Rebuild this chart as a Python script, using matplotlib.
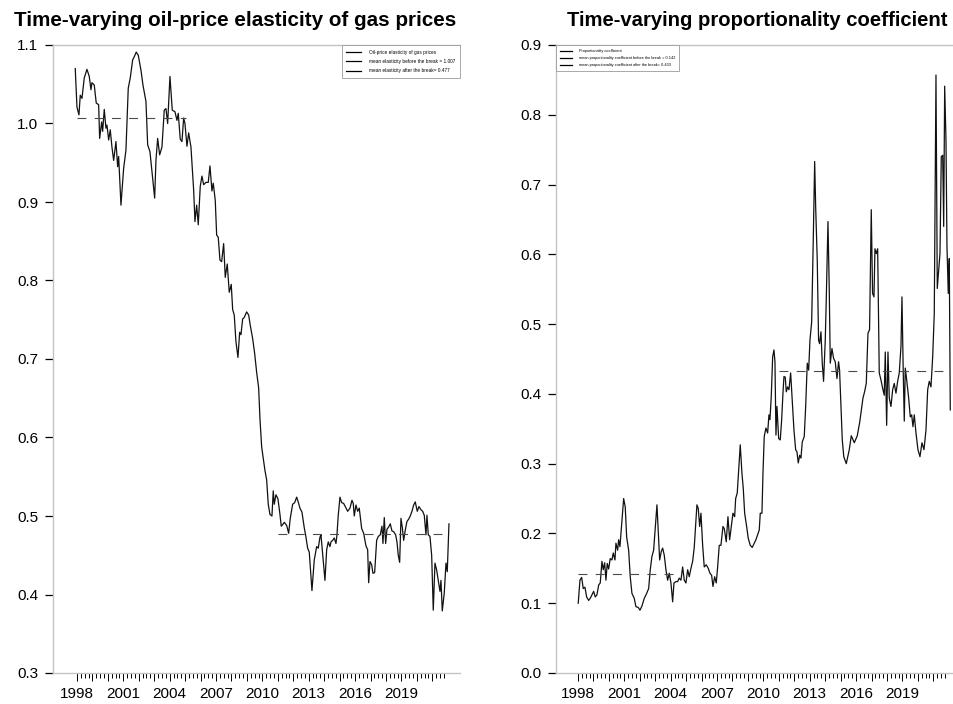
import numpy as np
import matplotlib
matplotlib.use("Agg")
import matplotlib.pyplot as plt
from matplotlib.lines import Line2D

plt.rcParams['font.family'] = ['Liberation Sans', 'DejaVu Sans']

# elasticity of gas prices w.r.t. oil price (decimal year, value)
elast_t = [
    1997.890, 1998.000, 1998.129, 1998.214, 1998.324, 1998.472, 1998.647, 1998.796, 1998.906, 1998.971,
    1999.120, 1999.249, 1999.404, 1999.469, 1999.599, 1999.663, 1999.767, 1999.877, 1999.942, 2000.052,
    2000.155, 2000.265, 2000.375, 2000.524, 2000.634, 2000.699, 2000.848, 2001.022, 2001.171, 2001.320,
    2001.450, 2001.605, 2001.708, 2001.838, 2001.967, 2002.142, 2002.272, 2002.466, 2002.576, 2002.725,
    2002.899, 2003.029, 2003.113, 2003.223, 2003.352, 2003.501, 2003.650, 2003.760, 2003.870, 2004.019,
    2004.168, 2004.343, 2004.472, 2004.556, 2004.686, 2004.796, 2004.906, 2004.990, 2005.119, 2005.229,
    2005.378, 2005.553, 2005.637, 2005.747, 2005.851, 2005.980, 2006.090, 2006.200, 2006.349, 2006.498,
    2006.608, 2006.737, 2006.821, 2006.951, 2007.041, 2007.145, 2007.255, 2007.365, 2007.494, 2007.598,
    2007.727, 2007.857, 2007.986, 2008.077, 2008.180, 2008.290, 2008.420, 2008.530, 2008.614, 2008.724,
    2008.828, 2008.983, 2009.113, 2009.216, 2009.371, 2009.501, 2009.630, 2009.760, 2009.844, 2009.954,
    2010.057, 2010.167, 2010.277, 2010.381, 2010.491, 2010.620, 2010.704, 2010.769, 2010.879, 2011.008,
    2011.138, 2011.222, 2011.313, 2011.416, 2011.572, 2011.701, 2011.805, 2011.960, 2012.089, 2012.219,
    2012.303, 2012.432, 2012.562, 2012.711, 2012.821, 2012.931, 2013.034, 2013.209, 2013.358, 2013.513,
    2013.617, 2013.727, 2013.792, 2013.902, 2014.051, 2014.161, 2014.264, 2014.374, 2014.439, 2014.549,
    2014.653, 2014.763, 2014.827, 2014.911, 2015.021, 2015.131, 2015.261, 2015.364, 2015.520, 2015.669,
    2015.798, 2015.882, 2015.947, 2016.057, 2016.167, 2016.270, 2016.335, 2016.426, 2016.555, 2016.704,
    2016.814, 2016.879, 2016.963, 2017.073, 2017.157, 2017.267, 2017.396, 2017.500, 2017.629, 2017.739,
    2017.804, 2017.889, 2017.979, 2018.063, 2018.173, 2018.277, 2018.387, 2018.497, 2018.626, 2018.711,
    2018.795, 2018.885, 2018.969, 2019.053, 2019.144, 2019.248, 2019.357, 2019.467, 2019.571, 2019.681,
    2019.791, 2019.894, 2020.024, 2020.134, 2020.264, 2020.374, 2020.477, 2020.587, 2020.652, 2020.736,
    2020.846, 2020.956, 2021.060, 2021.170, 2021.280, 2021.384, 2021.494, 2021.558, 2021.643, 2021.772,
    2021.882, 2021.966, 2022.076,
]
elast_v = [
    1.070, 1.021, 1.011, 1.036, 1.032, 1.058, 1.069, 1.060, 1.043, 1.052,
    1.049, 1.026, 1.024, 0.981, 1.002, 0.990, 1.018, 0.994, 0.998, 0.979,
    0.992, 0.970, 0.953, 0.977, 0.945, 0.958, 0.896, 0.943, 0.966, 1.045,
    1.058, 1.081, 1.085, 1.091, 1.087, 1.068, 1.049, 1.028, 0.973, 0.964,
    0.930, 0.905, 0.953, 0.981, 0.960, 0.970, 1.017, 1.019, 1.000, 1.060,
    1.017, 1.015, 1.004, 1.013, 0.980, 0.977, 1.007, 1.000, 0.971, 0.988,
    0.970, 0.915, 0.875, 0.896, 0.871, 0.920, 0.933, 0.922, 0.925, 0.925,
    0.946, 0.914, 0.924, 0.902, 0.858, 0.855, 0.826, 0.824, 0.847, 0.804,
    0.821, 0.785, 0.795, 0.763, 0.756, 0.722, 0.702, 0.734, 0.731, 0.751,
    0.753, 0.760, 0.756, 0.743, 0.726, 0.707, 0.683, 0.663, 0.624, 0.588,
    0.573, 0.558, 0.546, 0.515, 0.502, 0.500, 0.532, 0.515, 0.527, 0.522,
    0.502, 0.487, 0.489, 0.492, 0.488, 0.478, 0.497, 0.515, 0.517, 0.524,
    0.519, 0.510, 0.505, 0.485, 0.473, 0.459, 0.454, 0.405, 0.444, 0.461,
    0.459, 0.473, 0.476, 0.452, 0.418, 0.457, 0.467, 0.461, 0.467, 0.469,
    0.472, 0.465, 0.476, 0.501, 0.524, 0.517, 0.516, 0.512, 0.506, 0.510,
    0.520, 0.516, 0.500, 0.514, 0.506, 0.510, 0.499, 0.484, 0.478, 0.462,
    0.457, 0.415, 0.442, 0.438, 0.427, 0.428, 0.469, 0.474, 0.476, 0.487,
    0.465, 0.498, 0.465, 0.483, 0.486, 0.490, 0.481, 0.480, 0.476, 0.467,
    0.450, 0.441, 0.497, 0.486, 0.469, 0.482, 0.493, 0.496, 0.500, 0.506,
    0.514, 0.518, 0.506, 0.512, 0.508, 0.506, 0.501, 0.476, 0.501, 0.476,
    0.474, 0.450, 0.380, 0.440, 0.431, 0.418, 0.404, 0.418, 0.379, 0.402,
    0.440, 0.429, 0.490,
]

# proportionality coefficient (decimal year, value)
prop_t = [
    1998.019, 1998.129, 1998.239, 1998.343, 1998.453, 1998.563, 1998.693, 1998.796, 1998.906, 1999.016,
    1999.120, 1999.230, 1999.340, 1999.443, 1999.553, 1999.637, 1999.728, 1999.812, 1999.896, 1999.987,
    2000.090, 2000.200, 2000.285, 2000.395, 2000.459, 2000.569, 2000.634, 2000.718, 2000.828, 2000.958,
    2001.061, 2001.152, 2001.281, 2001.385, 2001.495, 2001.644, 2001.754, 2001.903, 2002.013, 2002.142,
    2002.291, 2002.446, 2002.576, 2002.679, 2002.789, 2002.899, 2003.003, 2003.113, 2003.223, 2003.288,
    2003.391, 2003.482, 2003.585, 2003.695, 2003.805, 2003.909, 2004.019, 2004.129, 2004.213, 2004.343,
    2004.453, 2004.556, 2004.666, 2004.776, 2004.880, 2004.990, 2005.100, 2005.203, 2005.313, 2005.423,
    2005.527, 2005.637, 2005.700, 2005.786, 2005.877, 2005.961, 2006.071, 2006.174, 2006.304, 2006.433,
    2006.543, 2006.653, 2006.737, 2006.847, 2006.951, 2007.041, 2007.145, 2007.255, 2007.384, 2007.469,
    2007.598, 2007.708, 2007.818, 2007.922, 2008.032, 2008.142, 2008.207, 2008.310, 2008.401, 2008.504,
    2008.614, 2008.698, 2008.789, 2008.918, 2009.022, 2009.151, 2009.281, 2009.410, 2009.520, 2009.630,
    2009.734, 2009.799, 2009.909, 2009.974, 2010.057, 2010.167, 2010.277, 2010.362, 2010.426, 2010.511,
    2010.601, 2010.686, 2010.750, 2010.815, 2010.880, 2010.990, 2011.093, 2011.184, 2011.268, 2011.333,
    2011.417, 2011.482, 2011.572, 2011.656, 2011.766, 2011.870, 2011.980, 2012.090, 2012.174, 2012.258,
    2012.349, 2012.433, 2012.517, 2012.647, 2012.738, 2012.841, 2012.932, 2013.016, 2013.126, 2013.229,
    2013.320, 2013.385, 2013.489, 2013.573, 2013.638, 2013.728, 2013.812, 2013.896, 2014.006, 2014.071,
    2014.181, 2014.265, 2014.330, 2014.440, 2014.543, 2014.653, 2014.763, 2014.867, 2014.932, 2015.023,
    2015.107, 2015.204, 2015.366, 2015.560, 2015.690, 2015.884, 2016.078, 2016.240, 2016.446, 2016.550,
    2016.660, 2016.770, 2016.873, 2016.983, 2017.067, 2017.158, 2017.222, 2017.306, 2017.397, 2017.500,
    2017.610, 2017.720, 2017.824, 2017.889, 2017.979, 2018.064, 2018.148, 2018.258, 2018.368, 2018.471,
    2018.581, 2018.691, 2018.795, 2018.905, 2018.970, 2019.054, 2019.119, 2019.184, 2019.274, 2019.404,
    2019.507, 2019.598, 2019.682, 2019.767, 2019.877, 2020.006, 2020.135, 2020.265, 2020.394, 2020.524,
    2020.634, 2020.737, 2020.847, 2020.957, 2021.061, 2021.171, 2021.255, 2021.346, 2021.430, 2021.514,
    2021.605, 2021.670, 2021.734, 2021.818, 2021.883, 2021.967, 2022.032, 2022.096,
]
prop_v = [
    0.100, 0.133, 0.137, 0.121, 0.123, 0.109, 0.104, 0.107, 0.112, 0.117,
    0.109, 0.112, 0.126, 0.129, 0.160, 0.148, 0.158, 0.133, 0.157, 0.149,
    0.164, 0.162, 0.172, 0.162, 0.186, 0.176, 0.191, 0.181, 0.212, 0.250,
    0.238, 0.195, 0.176, 0.138, 0.114, 0.107, 0.095, 0.094, 0.090, 0.096,
    0.107, 0.114, 0.121, 0.148, 0.167, 0.176, 0.207, 0.241, 0.191, 0.162,
    0.174, 0.179, 0.169, 0.148, 0.133, 0.143, 0.129, 0.102, 0.129, 0.131,
    0.131, 0.136, 0.133, 0.152, 0.133, 0.129, 0.148, 0.138, 0.150, 0.160,
    0.180, 0.220, 0.241, 0.236, 0.210, 0.229, 0.183, 0.152, 0.155, 0.150,
    0.143, 0.140, 0.124, 0.138, 0.129, 0.152, 0.183, 0.183, 0.210, 0.207,
    0.188, 0.224, 0.191, 0.210, 0.229, 0.224, 0.250, 0.258, 0.291, 0.327,
    0.286, 0.265, 0.229, 0.210, 0.193, 0.183, 0.180, 0.186, 0.191, 0.198,
    0.205, 0.229, 0.229, 0.286, 0.339, 0.351, 0.344, 0.370, 0.363, 0.396,
    0.453, 0.463, 0.446, 0.341, 0.382, 0.336, 0.334, 0.363, 0.401, 0.425,
    0.424, 0.403, 0.410, 0.406, 0.430, 0.391, 0.348, 0.320, 0.317, 0.301,
    0.312, 0.308, 0.331, 0.339, 0.382, 0.444, 0.434, 0.477, 0.503, 0.620,
    0.733, 0.668, 0.590, 0.477, 0.472, 0.489, 0.444, 0.418, 0.477, 0.535,
    0.647, 0.549, 0.444, 0.465, 0.451, 0.446, 0.422, 0.446, 0.434, 0.382,
    0.334, 0.310, 0.300, 0.320, 0.340, 0.330, 0.340, 0.360, 0.394, 0.403,
    0.415, 0.487, 0.492, 0.664, 0.544, 0.539, 0.608, 0.601, 0.608, 0.430,
    0.420, 0.408, 0.398, 0.460, 0.355, 0.460, 0.394, 0.382, 0.406, 0.415,
    0.401, 0.418, 0.430, 0.468, 0.539, 0.430, 0.361, 0.437, 0.420, 0.394,
    0.367, 0.370, 0.353, 0.370, 0.344, 0.320, 0.310, 0.330, 0.320, 0.348,
    0.406, 0.418, 0.410, 0.453, 0.515, 0.857, 0.551, 0.578, 0.601, 0.740,
    0.742, 0.640, 0.841, 0.764, 0.611, 0.544, 0.594, 0.377,
]

# regime means and the periods they are drawn over
elast_mean_before, elast_mean_after = 1.007, 0.477
prop_mean_before, prop_mean_after = 0.142, 0.433
elast_before_span = (1998.0, 2005.05)
prop_before_span = (1998.0, 2004.6)
after_span = (2011.0, 2022.0)

year_labels = [1998, 2001, 2004, 2007, 2010, 2013, 2016, 2019]

W, H = 954, 704
fig = plt.figure(figsize=(W / 100, H / 100), dpi=100)

SPINE = '#c4c4c4'
DASH = (0, (8, 7.5))


def px_axes(x0, x1, y_top, y_bot):
    return fig.add_axes([x0 / W, 1 - y_bot / H, (x1 - x0) / W, (y_bot - y_top) / H])


def style_axes(ax, ylim, yticks):
    ax.set_ylim(*ylim)
    for s in ax.spines.values():
        s.set_color(SPINE)
        s.set_linewidth(1.0)
    # open on the right: the frame is only left, top and bottom
    ax.spines['right'].set_visible(False)
    ax.set_yticks(yticks)
    ax.set_yticklabels([f"{v:.1f}" for v in yticks])
    ax.tick_params(axis='y', direction='out', length=6, width=0.9,
                   color='black', labelsize=11, pad=4.5)
    # yearly and quarterly marks, labels every third year
    ax.set_xticks(np.arange(1998, 2021.8, 1.0))
    ax.set_xticklabels([str(y) if y in year_labels else ''
                        for y in range(1998, 2022)])
    ax.set_xticks(np.arange(1998, 2021.8, 0.25), minor=True)
    ax.tick_params(axis='x', which='major', direction='out', length=5.5,
                   width=0.7, color='black', labelsize=11, pad=4.5)
    ax.tick_params(axis='x', which='minor', direction='out', length=3.5,
                   width=0.7, color='black')


def legend_box(ax, labels, loc, anchor, size, spacing):
    handles = [Line2D([], [], color='black', lw=0.9) for _ in labels]
    leg = ax.legend(handles, labels, loc=loc, bbox_to_anchor=anchor,
                    fontsize=size, handlelength=3.2, handletextpad=1.6,
                    labelspacing=spacing, borderpad=1.0, fancybox=False,
                    framealpha=1, edgecolor='#9a9a9a', borderaxespad=0)
    leg.get_frame().set_linewidth(0.6)


# left panel
ax1 = px_axes(53, 460, 45, 673)
ax1.set_xlim(1996.45, 2022.79)
ax1.plot(elast_t, elast_v, color='#111111', lw=0.9)
ax1.plot(elast_before_span, [elast_mean_before] * 2, color='#4a4a4a', lw=0.8, linestyle=DASH)
ax1.plot(after_span, [elast_mean_after] * 2, color='#4a4a4a', lw=0.8, linestyle=DASH)
style_axes(ax1, (0.3, 1.1), np.arange(0.3, 1.11, 0.1))
legend_box(ax1, ["Oil-price elasticity of gas prices",
                 f"mean elasticity before the break = {elast_mean_before:.3f}",
                 f"mean elasticity after the break= {elast_mean_after:.3f}"],
           'upper right', (1.0, 1.0), 3.4, 0.9)

# right panel (runs past the figure edge)
ax2 = px_axes(556, 963, 45, 673)
ax2.set_xlim(1996.58, 2022.92)
ax2.plot(prop_t, prop_v, color='#111111', lw=0.9)
ax2.plot(prop_before_span, [prop_mean_before] * 2, color='#4a4a4a', lw=0.8, linestyle=DASH)
ax2.plot(after_span, [prop_mean_after] * 2, color='#4a4a4a', lw=0.8, linestyle=DASH)
style_axes(ax2, (0.0, 0.9), np.arange(0.0, 0.91, 0.1))
legend_box(ax2, ["Proportionality coefficient",
                 f"mean proportionality coefficient before the break = {prop_mean_before:.3f}",
                 f"mean proportionality coefficient after the break= {prop_mean_after:.3f}"],
           'upper left', (0.0, 1.0), 2.8, 0.8)

fig.text(235 / W, 1 - 20 / H, "Time-varying oil-price elasticity of gas prices",
         ha='center', va='center', fontsize=14.9, fontweight='bold')
fig.text(757 / W, 1 - 20 / H, "Time-varying proportionality coefficient",
         ha='center', va='center', fontsize=14.6, fontweight='bold')

fig.savefig('out.png', dpi=100)
